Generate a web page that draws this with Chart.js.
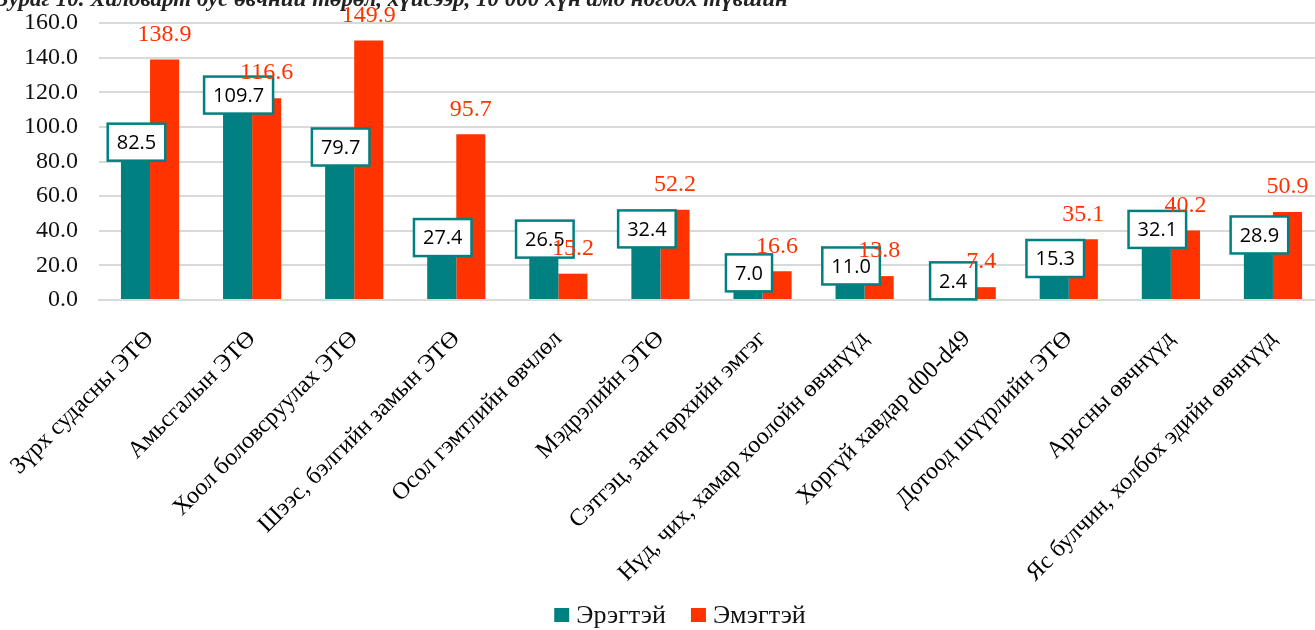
<!DOCTYPE html>
<html>
<head>
<meta charset="utf-8">
<script src="https://cdn.jsdelivr.net/npm/chart.js@4.4.1/dist/chart.umd.min.js"></script>
<style>
  html, body { margin: 0; padding: 0; background: #fff; overflow: hidden; }
  #wrap { position: relative; width: 1315px; height: 630px; overflow: hidden; }
  #caption {
    position: absolute; left: -3px; top: -14px; white-space: nowrap;
    font-family: "Liberation Serif", serif; font-style: italic; font-weight: bold;
    font-size: 23px; color: #222;
  }
</style>
</head>
<body>
<div id="wrap">
  <canvas id="chart" width="1360" height="630"></canvas>
  <div id="caption">Зураг 10. Халдварт бус өвчний төрөл, хүйсээр, 10 000 хүн амд ногдох түвшин</div>
</div>
<script>
// Ангилал (өвчний бүлэг)
const categories = [
  'Зүрх судасны ЭТӨ',
  'Амьсгалын ЭТӨ',
  'Хоол боловсруулах ЭТӨ',
  'Шээс, бэлгийн замын ЭТӨ',
  'Осол гэмтлийн өвчлөл',
  'Мэдрэлийн ЭТӨ',
  'Сэтгэц, зан төрхийн эмгэг',
  'Нүд, чих, хамар хоолойн өвчнүүд',
  'Хоргүй хавдар d00-d49',
  'Дотоод шүүрлийн ЭТӨ',
  'Арьсны өвчнүүд',
  'Яс булчин, холбох эдийн өвчнүүд'
];

// Утгууд
const male = [82.5, 109.7, 79.7, 27.4, 26.5, 32.4, 7.0, 11.0, 2.4, 15.3, 32.1, 28.9];
const female = [138.9, 116.6, 149.9, 95.7, 15.2, 52.2, 16.6, 13.8, 7.4, 35.1, 40.2, 50.9];

const seriesNames = ['Эрэгтэй', 'Эмэгтэй'];
const TEAL = '#008080';
const RED = '#FF3300';
const SERIF = "'Liberation Serif', serif";

Chart.defaults.font.family = SERIF;

// Өгөгдлийн шошго зурах plugin
const valueLabels = {
  id: 'valueLabels',
  afterDatasetsDraw(chart) {
    const ctx = chart.ctx;
    ctx.save();
    // Эрэгтэй - хүрээтэй цагаан хайрцаг
    const m0 = chart.getDatasetMeta(0);
    ctx.font = "20px 'Open Sans', sans-serif";
    ctx.textAlign = 'center';
    ctx.textBaseline = 'middle';
    m0.data.forEach((bar, i) => {
      const txt = male[i].toFixed(1);
      const w = ctx.measureText(txt).width + 18;
      const h = 37;
      const cx = bar.x + 1;
      const cy = bar.y - 15;
      ctx.fillStyle = '#fff';
      ctx.fillRect(cx - w / 2, cy - h / 2, w, h);
      ctx.strokeStyle = TEAL;
      ctx.lineWidth = 2.5;
      ctx.strokeRect(cx - w / 2, cy - h / 2, w, h);
      ctx.fillStyle = '#000';
      ctx.fillText(txt, cx, cy + 1);
    });
    // Эмэгтэй - улаан текст
    const m1 = chart.getDatasetMeta(1);
    ctx.font = '24px ' + SERIF;
    ctx.fillStyle = RED;
    m1.data.forEach((bar, i) => {
      ctx.fillText(female[i].toFixed(1), bar.x, bar.y - 25);
    });
    ctx.restore();
  }
};

// Доод талын тайлбар (legend)
const bottomLegend = {
  id: 'bottomLegend',
  afterDraw(chart) {
    const ctx = chart.ctx;
    const colors = chart.data.datasets.map(d => d.backgroundColor);
    ctx.save();
    ctx.font = '26px ' + SERIF;
    ctx.textBaseline = 'middle';
    ctx.textAlign = 'left';
    const box = 15, gapText = 7, gapItem = 25;
    const widths = seriesNames.map(s => box + gapText + ctx.measureText(s).width);
    const total = widths.reduce((a, b) => a + b, 0) + gapItem * (widths.length - 1);
    let x = chart.width / 2 - total / 2;
    const y = 615;
    seriesNames.forEach((s, i) => {
      ctx.fillStyle = colors[i];
      ctx.fillRect(x, y - 7, box, 14);
      ctx.fillStyle = '#111';
      ctx.fillText(s, x + box + gapText, y + 1);
      x += widths[i] + gapItem;
    });
    ctx.restore();
  }
};

new Chart(document.getElementById('chart'), {
  type: 'bar',
  data: {
    labels: categories,
    datasets: [
      { label: seriesNames[0], data: male, backgroundColor: TEAL },
      { label: seriesNames[1], data: female, backgroundColor: RED }
    ]
  },
  options: {
    responsive: false,
    animation: false,
    devicePixelRatio: 1,
    datasets: {
      bar: { categoryPercentage: 0.57, barPercentage: 1.0 }
    },
    layout: { padding: { top: 23, left: 25, right: 36, bottom: 0 } },
    plugins: {
      tooltip: { enabled: false },
      legend: { display: false }
    },
    scales: {
      y: {
        min: 0,
        max: 160,
        afterFit: scale => {
          scale.width = 74;
          scale.paddingTop = 0;
          scale.paddingBottom = 0;
        },
        ticks: {
          stepSize: 20,
          padding: 21,
          color: '#111',
          font: { family: SERIF, size: 24 },
          callback: v => Number(v).toFixed(1)
        },
        grid: { color: '#d9d9d9', lineWidth: 2, drawTicks: false },
        border: { display: false }
      },
      x: {
        afterFit: scale => {
          scale.height = 330;
          scale.paddingLeft = 0;
          scale.paddingRight = 0;
        },
        ticks: {
          minRotation: 45,
          maxRotation: 45,
          color: '#000',
          padding: 17,
          font: { family: SERIF, size: 24 }
        },
        grid: { display: false },
        border: { color: '#d9d9d9', width: 2 }
      }
    }
  },
  plugins: [valueLabels, bottomLegend]
});
</script>
</body>
</html>
